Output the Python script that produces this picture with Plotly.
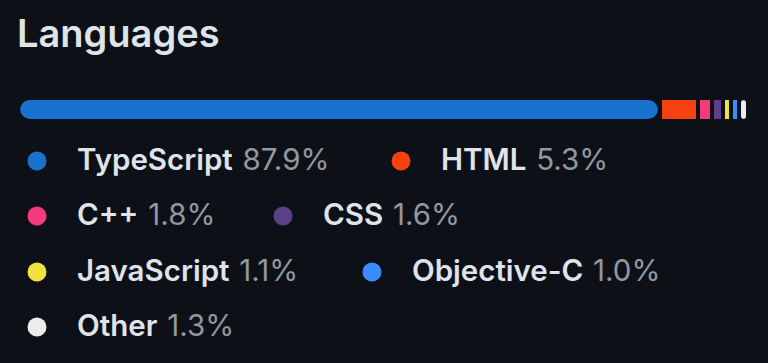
import plotly.graph_objects as go

# ---- data ----
title = "Languages"
languages = ["TypeScript", "HTML", "C++", "CSS", "JavaScript", "Objective-C", "Other"]
shares = [87.9, 5.3, 1.8, 1.6, 1.1, 1.0, 1.3]
colors = ["#1a72cf", "#f5400f", "#f53b7c", "#5b3f87", "#f1e13c", "#3a8cff", "#ececec"]

# ---- layout constants ----
W, H = 768, 363
BG = "#0d1117"
TEXT = "#dfe3ea"
MUTED = "#9198a1"
FONT = "Inter"
bar_l, bar_r, bar_t, bar_b = 18, 748, 98, 121
gap = 4.0
# legend placement: rows of (dot centre x) in pixels
legend_rows_y = [161, 216, 272, 327]
legend_rows = [[0, 1], [2, 3], [4, 5], [6]]
legend_cols_x = [[37, 401], [37, 283], [37, 372], [37]]
text_offset = 40
text_dy = 2

fig = go.Figure()

# ---- the stacked bar ----
n = len(shares)
starts = []
acc = 0.0
for v in shares:
    starts.append(acc)
    acc += v
total = acc

for i, (name, val, col) in enumerate(zip(languages, shares, colors)):
    first = i == 0
    last = i == n - 1
    if first:
        # draw leftwards from its end so the rounded end sits at the left
        x, base = [-val], [starts[i] + val]
    else:
        x, base = [val], [starts[i]]
    fig.add_trace(go.Bar(
        x=x, y=[0], base=base, orientation="h", width=1,
        marker=dict(color=col, line=dict(color=BG, width=gap),
                    cornerradius=12 if first else (8 if last else 0)),
        name=name, showlegend=False, hoverinfo="skip",
        xaxis="x", yaxis="y",
    ))

# ---- legend (drawn in a pixel-space overlay axis) ----
dot_x, dot_y, dot_c, lab_x, lab_y, lab_t = [], [], [], [], [], []
for r, idxs in enumerate(legend_rows):
    for c, idx in enumerate(idxs):
        px = legend_cols_x[r][c]
        py = legend_rows_y[r]
        dot_x.append(px)
        dot_y.append(py)
        dot_c.append(colors[idx])
        lab_x.append(px + text_offset)
        lab_y.append(py + text_dy)
        lab_t.append(f"{languages[idx]}\u2004<span style='color:{MUTED};font-weight:400'>{shares[idx]:.1f}%</span>")

fig.add_trace(go.Scatter(
    x=dot_x, y=dot_y, mode="markers",
    marker=dict(size=19, color=dot_c, line=dict(width=0)),
    xaxis="x2", yaxis="y2", showlegend=False, hoverinfo="skip",
))
fig.add_trace(go.Scatter(
    x=lab_x, y=lab_y, mode="text", text=lab_t, textposition="middle right",
    textfont=dict(family=FONT, size=29.5, color=TEXT, weight=600),
    xaxis="x2", yaxis="y2", showlegend=False, hoverinfo="skip", cliponaxis=False,
))

fig.add_annotation(
    x=15, y=33, xref="x2", yref="y2", text=title, showarrow=False,
    xanchor="left", yanchor="middle",
    font=dict(family=FONT, size=38, color=TEXT, weight=600),
)

fig.update_layout(
    width=W, height=H,
    margin=dict(l=0, r=0, t=0, b=0, pad=0),
    paper_bgcolor=BG, plot_bgcolor="rgba(0,0,0,0)",
    barmode="overlay", bargap=0,
    showlegend=False,
    xaxis=dict(domain=[bar_l / W, bar_r / W], range=[0, total], visible=False, fixedrange=True),
    yaxis=dict(domain=[1 - bar_b / H, 1 - bar_t / H], range=[-0.5, 0.5], visible=False, fixedrange=True),
    xaxis2=dict(domain=[0, 1], range=[0, W], visible=False, fixedrange=True, anchor="y2"),
    yaxis2=dict(domain=[0, 1], range=[H, 0], visible=False, fixedrange=True, anchor="x2"),
)

fig.write_html(
    "out.html",
    config={"displayModeBar": False},
    post_script="document.body.style.margin='0';document.body.style.overflow='hidden';document.body.style.background='" + BG + "';",
)
